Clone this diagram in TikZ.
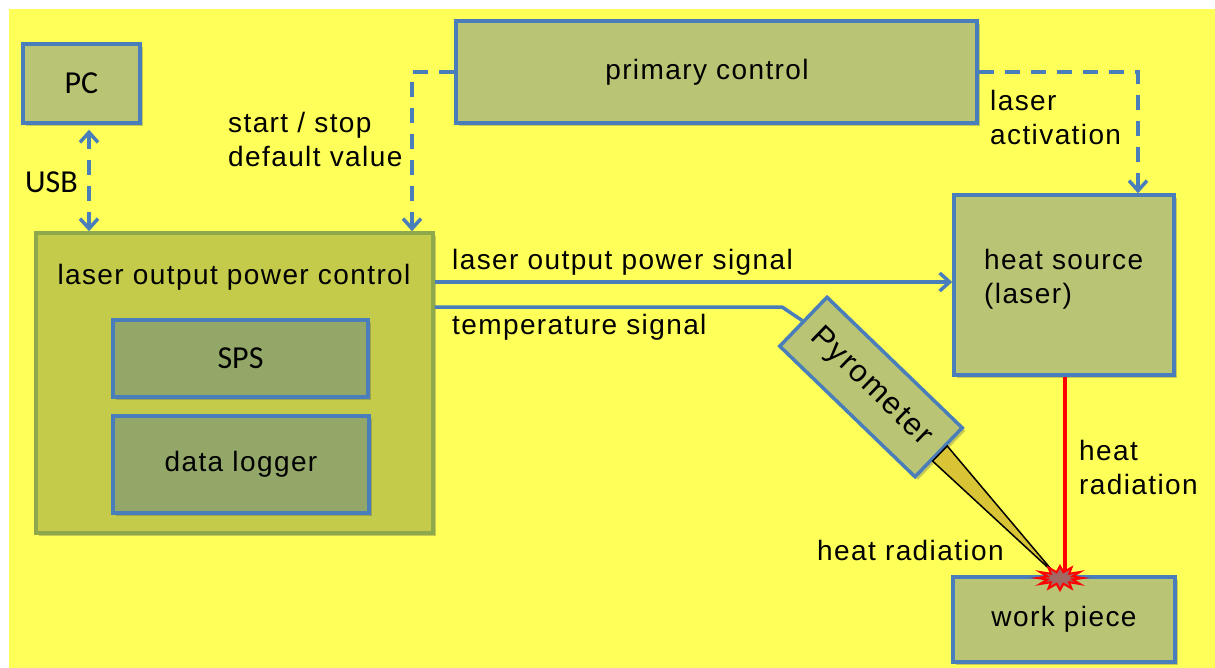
\documentclass[tikz,border=0pt]{standalone}
\usepackage{fontspec}
\setmainfont{Liberation Sans}[LetterSpace=5]
\newfontfamily\calfont{Carlito}
\usetikzlibrary{arrows.meta,shadows,calc}
\definecolor{bgyellow}{RGB}{255,255,90}
\definecolor{boxfill}{RGB}{185,196,116}
\definecolor{bigfill}{RGB}{196,202,74}
\definecolor{bigborder}{RGB}{142,168,76}
\definecolor{innerfill}{RGB}{147,168,104}
\definecolor{bblue}{RGB}{74,126,187}
\definecolor{conefill}{RGB}{216,196,52}
\definecolor{burstfill}{RGB}{160,105,100}
\begin{document}
\begin{tikzpicture}[x=1pt,y=-1pt,
  every node/.style={font=\fontsize{28}{34}\selectfont, text=black},
  shad/.style={drop shadow={shadow xshift=3pt,shadow yshift=-3pt,opacity=0.3,fill=black!70}},
  box/.style={draw=bblue,line width=3.5pt,fill=boxfill,shad,inner sep=0pt},
  bigbox/.style={draw=bigborder,line width=3.5pt,fill=bigfill,shad,inner sep=0pt},
  innerbox/.style={draw=bblue,line width=3.5pt,fill=innerfill,shad,inner sep=0pt},
  calib/.style={font=\calfont\fontsize{32}{36}\selectfont},
  conn/.style={draw=bblue,line width=3.5pt},
  dconn/.style={conn,dash pattern=on 15pt off 11pt},
  arrowend/.style={-{Straight Barb[length=10pt,width=18pt,line width=3.5pt]}},
  arrowboth/.style={{Straight Barb[length=10pt,width=18pt,line width=3.5pt]}-{Straight Barb[length=10pt,width=18pt,line width=3.5pt]}},
  lbl/.style={align=left,anchor=west,inner sep=0pt},
]
\fill[white] (0,0) rectangle (1215,668);
\useasboundingbox (0,0) rectangle (1215,668);
\fill[bgyellow] (9,9) rectangle (1215,668);

% boxes
\node[box,calib,minimum width=117pt,minimum height=79pt] (pc) at (81.5,83.5) {PC};
\node[box,minimum width=521pt,minimum height=102pt] (primary) at (716.5,72) {};
\node[lbl,anchor=center] (primaryt) at (707,72) {primary control};
\node[bigbox,minimum width=397pt,minimum height=300pt] (lopc) at (234.5,383) {};
\node[lbl,anchor=center] (lopct) at (234,277) {laser output power control};
\node[innerbox,calib,minimum width=255pt,minimum height=77pt] (sps) at (240.5,358.5) {SPS};
\node[innerbox,minimum width=256pt,minimum height=97pt] (dl) at (241,464.5) {data logger};
\node[box,minimum width=220pt,minimum height=180pt] (heat) at (1064,285) {};
\node[lbl] (heatt) at (984,279) {heat source\\(laser)};
\node[box,minimum width=222pt,minimum height=85pt] (wp) at (1064,619.5) {work piece};
\node[box,minimum width=188pt,minimum height=68pt,rotate=-44,font=\fontsize{31}{34}\selectfont] (pyro) at (871,387) {Pyrometer};

% helper coordinates
\coordinate (xl) at (412,0);
\coordinate (xr) at (1138,0);
\coordinate (xu) at (89,0);
\coordinate (rx) at (1065,0);
\coordinate (yp) at (0,282);
\coordinate (yt) at (0,307);
\coordinate (tbend) at (782,307);
\coordinate (tipc) at (1056,575);
\coordinate (burst) at (1060,578);

% cone
\draw[black,line width=1.5pt,fill=conefill] ($(pyro.east)!10.5pt!(pyro.north east)$) -- (tipc) -- ($(pyro.east)!10.5pt!(pyro.south east)$) -- cycle;

% red beam and burst
\draw[red,line width=4pt] (heat.south -| rx) -- (burst -| rx);
\draw[red,line width=2pt,fill=burstfill,shift={(burst)}] (0:23 and 12) \foreach \a in {15,45,...,345} { -- (\a:13 and 6) -- (\a+15:23 and 12) } -- cycle;

% connectors
\draw[dconn,arrowend] (primary.west) -| (lopc.north -| xl);
\draw[dconn,arrowend] (primary.east) -| (heat.north -| xr);
\draw[dconn,arrowboth,shorten <=5pt] (pc.south -| xu) -- (lopc.north -| xu);
\draw[conn,arrowend] (lopc.east |- yp) -- (heat.west |- yp);
\draw[conn] (lopc.east |- yt) -- (tbend) -- (pyro.west);

% labels
\node[lbl] (ss) at (228,139) {start / stop\\default value};
\node[lbl,calib] (usb) at (25,182) {USB};
\node[lbl] (la) at (990,117) {laser\\activation};
\node[lbl] (lops) at (452,262) {laser output power signal};
\node[lbl] (ts) at (452,327) {temperature signal};
\node[lbl] (hr1) at (1079,467) {heat\\radiation};
\node[lbl] (hr2) at (817,550) {heat radiation};
\end{tikzpicture}
\end{document}
